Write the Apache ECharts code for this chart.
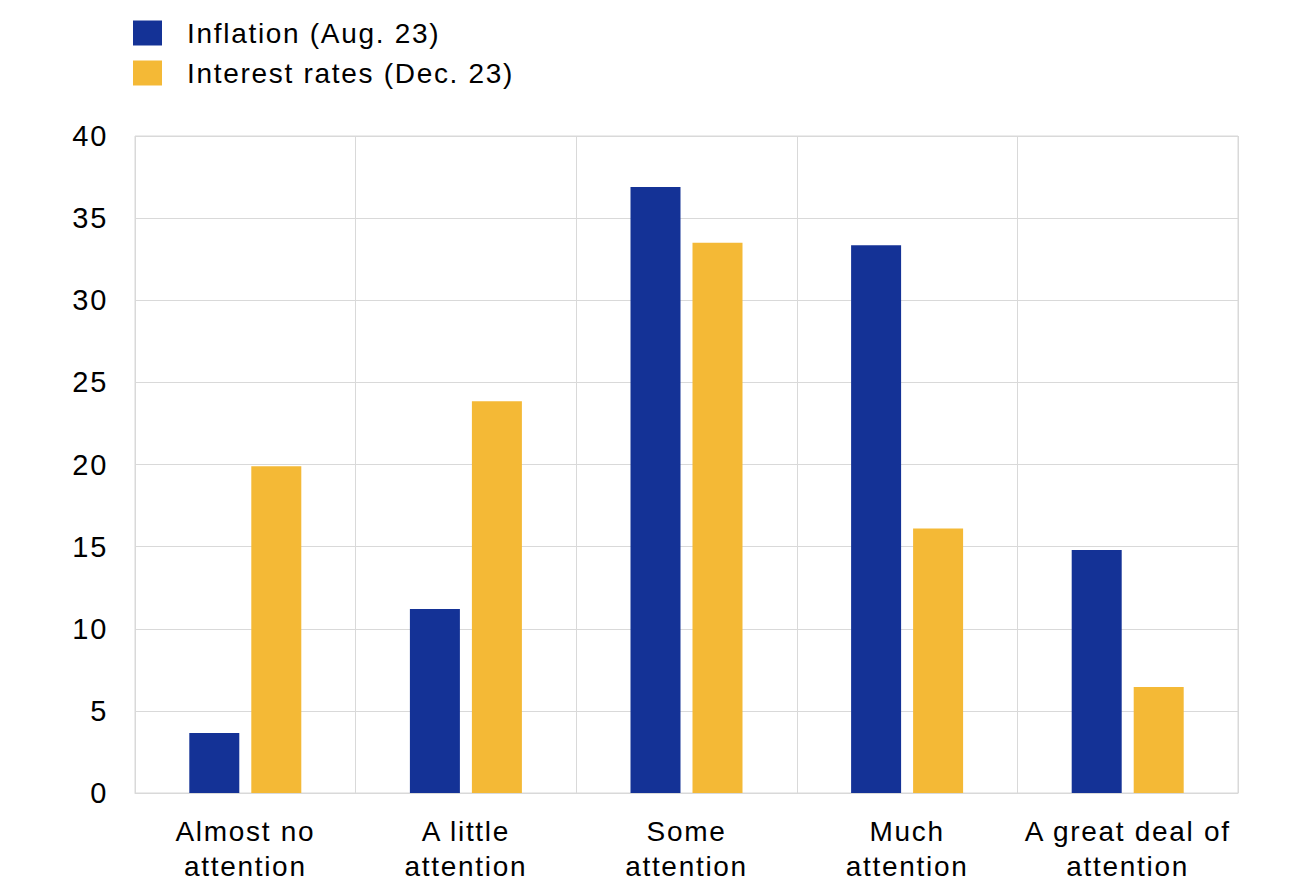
<!DOCTYPE html>
<html>
<head>
<meta charset="utf-8">
<script src="https://cdn.jsdelivr.net/npm/echarts@6/dist/echarts.min.js"></script>
<style>html,body{margin:0;padding:0;background:#fff;}#c{width:1292px;height:895px;}
#c svg text{letter-spacing:1.7px;}</style>
</head>
<body>
<div id="c"></div>
<script>
var categories = ["Almost no\nattention", "A little\nattention", "Some\nattention", "Much\nattention", "A great deal of\nattention"];
var inflation = [3.65, 11.2, 36.9, 33.35, 14.8];
var interestRates = [19.9, 23.85, 33.5, 16.1, 6.45];
var seriesNames = ["Inflation (Aug. 23)", "Interest rates (Dec. 23)"];
var yTicks = {min: 0, max: 40, interval: 5};

var chart = echarts.init(document.getElementById('c'), null, {renderer: 'svg'});
var font = "'Liberation Sans', Arial, sans-serif";
chart.setOption({
  animation: false,
  textStyle: {fontFamily: font},
  legend: {
    orient: 'vertical', left: 128, top: 14,
    itemWidth: 29, itemHeight: 25, itemGap: 12,
    icon: 'rect',
    textStyle: {fontSize: 28, color: '#000', fontFamily: font, padding: [0, 0, 0, 20]},
    data: seriesNames
  },
  grid: {left: 135, right: 54, top: 136, bottom: 102, show: true, borderColor: '#d9d9d9', borderWidth: 1},
  xAxis: {
    type: 'category', data: categories,
    axisLine: {show: true, lineStyle: {color: '#d9d9d9'}},
    axisTick: {show: false},
    splitLine: {show: true, lineStyle: {color: '#d9d9d9', width: 1}},
    axisLabel: {fontSize: 28, color: '#000', lineHeight: 35, margin: 21, interval: 0, fontFamily: font}
  },
  yAxis: {
    type: 'value', min: yTicks.min, max: yTicks.max, interval: yTicks.interval,
    axisLine: {show: false}, axisTick: {show: false},
    splitLine: {lineStyle: {color: '#d9d9d9', width: 1}},
    axisLabel: {fontSize: 29, color: '#000', margin: 27, fontFamily: font}
  },
  series: [
    {name: seriesNames[0], type: 'bar', data: inflation, barWidth: 50, barGap: '24%', itemStyle: {color: '#143296'}},
    {name: seriesNames[1], type: 'bar', data: interestRates, barWidth: 50, itemStyle: {color: '#F4B936'}}
  ]
});
</script>
</body>
</html>
